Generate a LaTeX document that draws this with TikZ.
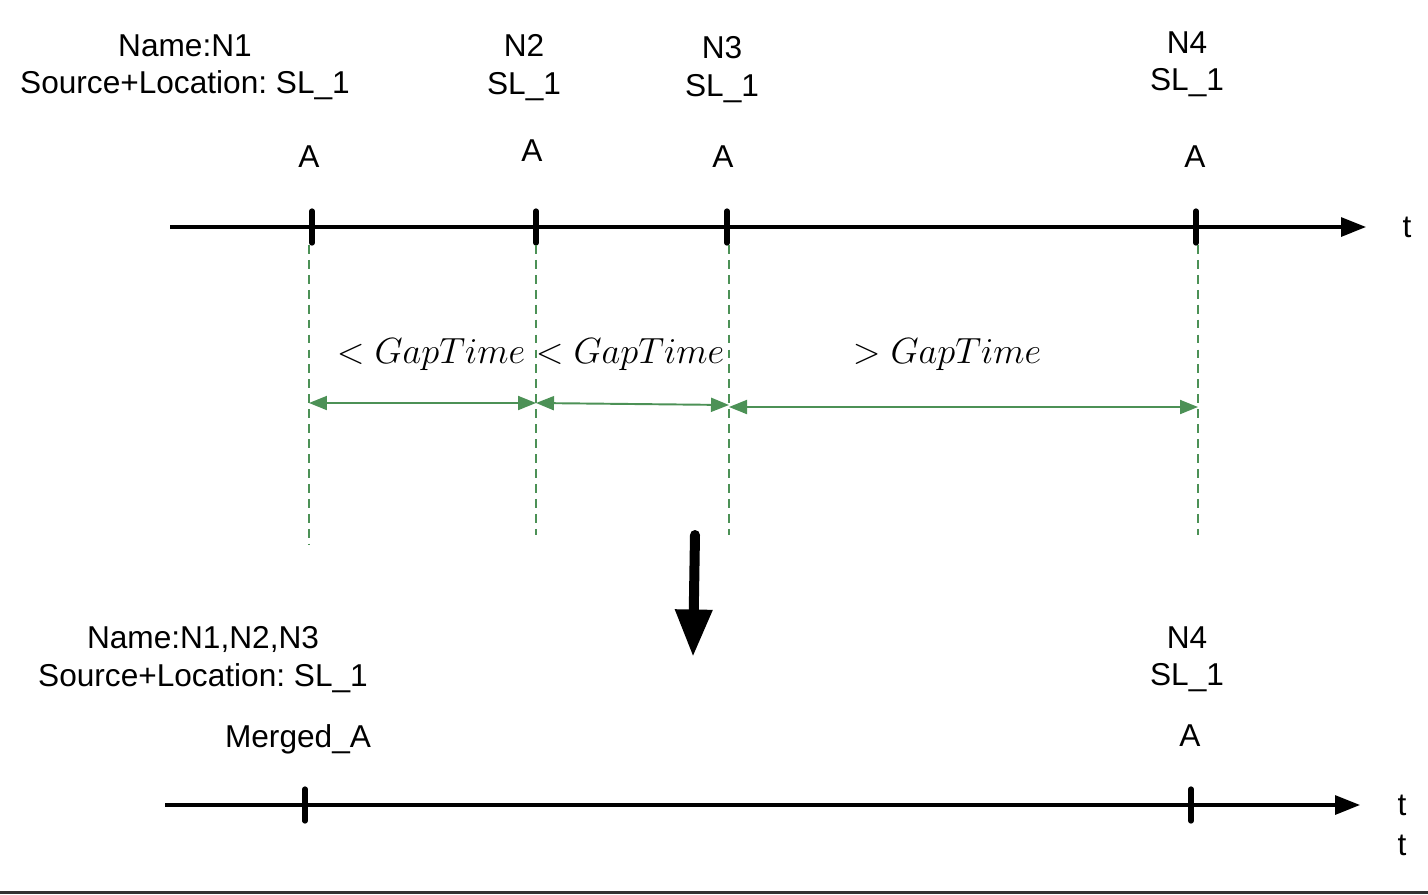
\documentclass[tikz,border=0pt]{standalone}
\usepackage{fontspec}
\setmainfont{Liberation Sans}
\usetikzlibrary{arrows.meta,positioning}
\definecolor{gapgreen}{RGB}{76,145,86}
\definecolor{edgegray}{RGB}{50,50,50}
\frenchspacing
\tikzset{
  lbl/.style={font=\fontsize{18}{21.5}\selectfont, inner sep=0pt, align=center},
  timeline/.style={line width=1.8pt, -{Triangle[length=0.5cm,width=0.38cm]}},
  tickmark/.style={line width=3pt, line cap=round},
  guide/.style={gapgreen, line width=0.8pt, dash pattern=on 5pt off 3.5pt},
  gaparrow/.style={gapgreen, line width=1.1pt,
     {Triangle[length=0.36cm,width=0.28cm]}-{Triangle[length=0.36cm,width=0.28cm]}},
  gaplbl/.style={font=\fontsize{19.5}{23}\selectfont, inner sep=0pt, anchor=base}
}
\begin{document}
\begin{tikzpicture}[x=0.02cm,y=-0.02cm]
  \useasboundingbox (0,0) rectangle (1428,894);

  % upper time axis
  \coordinate (top0) at (170,227);
  \coordinate (top9) at (1366,227);
  \draw[timeline] (top0) -- (top9);
  \node[lbl] (tlabel) at (1407,227) {t};
  \foreach \x [count=\i] in {312,536,727,1196}{
    \coordinate (tick\i) at (\x,227);
    \draw[tickmark] ([yshift=0.32cm]tick\i) -- ([yshift=-0.32cm]tick\i);
  }

  % events
  \node[lbl, anchor=north] (n1) at (185,34) {Name:N1\\Source+Location: SL\_1};
  \node[lbl, anchor=north] (n2) at (524,34) {N2\\SL\_1};
  \node[lbl, anchor=north] (n3) at (722,36) {N3\\SL\_1};
  \node[lbl, anchor=north] (n4) at (1187,31) {N4\\SL\_1};
  \node[lbl] (a1) at (309,157) {A};
  \node[lbl] (a2) at (532,151) {A};
  \node[lbl] (a3) at (723,157) {A};
  \node[lbl] (a4) at (1195,157) {A};

  % gaps
  \foreach \x/\y [count=\i] in {309/545,536/535,729/535,1198/535}{
    \coordinate (up\i) at (\x,245);
    \coordinate (low\i) at (\x,\y);
    \draw[guide] (up\i) -- (low\i);
  }
  \coordinate (g1) at (309,403);
  \coordinate (g2) at (536,403);
  \coordinate (g2b) at (536,403);
  \coordinate (g3) at (729,405);
  \coordinate (g3b) at (729,407);
  \coordinate (g4) at (1198,407);
  \draw[gaparrow] (g1) -- (g2);
  \draw[gaparrow] (g2b) -- (g3);
  \draw[gaparrow] (g3b) -- (g4);
  \node[gaplbl] (gap1) at (431,363) {$<GapTime$};
  \node[gaplbl] (gap2) at (630,363) {$<GapTime$};
  \node[gaplbl] (gap3) at (947,363) {$>GapTime$};

  % merge step
  \coordinate (down1) at (695,535);
  \coordinate (down2) at (693,657);
  \draw[line width=0.2cm, line cap=round, -{Triangle[length=0.95cm,width=0.7cm]}] (down1) -- (down2);

  % lower time axis
  \coordinate (bot0) at (165,805);
  \coordinate (bot9) at (1360,805);
  \draw[timeline] (bot0) -- (bot9);
  \node[lbl] (blabel) at (1402,805) {t};
  \node[lbl] (blabel2) at (1402,845) {t};
  \foreach \x [count=\i] in {305,1191}{
    \coordinate (btick\i) at (\x,805);
    \draw[tickmark] ([yshift=0.32cm]btick\i) -- ([yshift=-0.32cm]btick\i);
  }
  \node[lbl, anchor=north] (m1) at (203,626) {Name:N1,N2,N3\\Source+Location: SL\_1};
  \node[lbl, anchor=north] (m4) at (1187,626) {N4\\SL\_1};
  \node[lbl, anchor=base] (ma) at (298,747) {Merged\_A};
  \node[lbl] (mb) at (1190,736) {A};

  \draw[edgegray, line width=1.7pt] (0,892.5) -- (1428,892.5);
\end{tikzpicture}
\end{document}
